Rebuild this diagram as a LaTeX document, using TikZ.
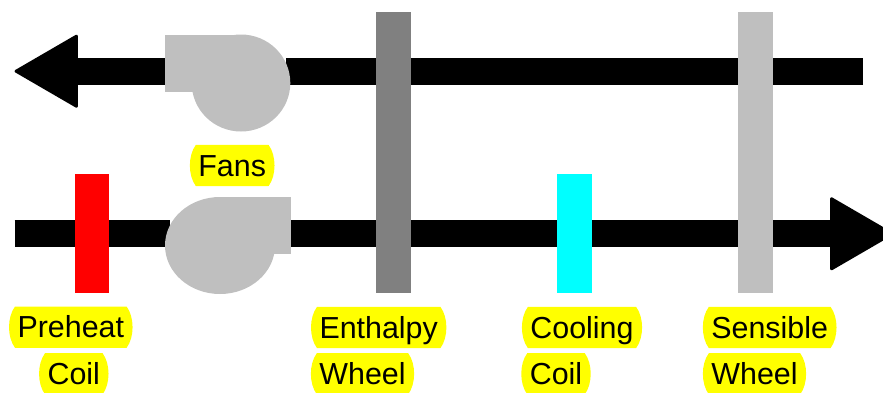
\documentclass[tikz,border=0pt]{standalone}
\usepackage{fontspec}
\setmainfont{Liberation Sans}
\usetikzlibrary{arrows.meta,backgrounds}
\definecolor{midgray}{gray}{0.5}
\definecolor{lightgr}{gray}{0.75}
\definecolor{pureyellow}{rgb}{1,1,0}
\definecolor{purecyan}{rgb}{0,1,1}
\definecolor{purered}{rgb}{1,0,0}
\tikzset{
  duct/.style={line width=20.5pt,-{Triangle[length=48.5pt,width=55.8pt,line width=2pt,round]}},
  fan/.style={fill=lightgr,draw=none},
  tag/.style={rectangle,inner xsep=6.2pt,inner ysep=0pt,anchor=base,text height=23.2pt,text depth=7.4pt,
    font=\fontsize{22.8}{27}\selectfont,text=black}
}
\newcommand{\tagbox}[3]{%
  \node[tag] (#1) at (#2) {#3};
  \begin{scope}[on background layer]
    \fill[pureyellow] ([xshift=4.5pt]#1.north west) -- ([xshift=-4.5pt]#1.north east)
      .. controls ([xshift=1.5pt,yshift=-8pt]#1.north east) and ([xshift=1.5pt,yshift=8pt]#1.south east) .. ([xshift=-4.5pt]#1.south east)
      -- ([xshift=4.5pt]#1.south west)
      .. controls ([xshift=-1.5pt,yshift=8pt]#1.south west) and ([xshift=-1.5pt,yshift=-8pt]#1.north west) .. cycle;
  \end{scope}}
\begin{document}
\begin{tikzpicture}[x=0.75pt,y=-0.75pt]
\useasboundingbox (0,0) rectangle (883,393);
% ducts
\coordinate (topstart) at (863,71.2);
\coordinate (topend) at (14.5,71.2);
\coordinate (botstart) at (14.5,233.8);
\coordinate (botend) at (893.5,233.8);
\draw[duct] (topstart) -- (topend);
\draw[duct] (botstart) -- (botend);
% fans
\fill[white] (165,57) rectangle (286,86);
\fill[fan] (241,83) ellipse [x radius=49.3,y radius=48.5];
\fill[fan] (165,34.5) rectangle (241,91.5);
\fill[white] (169.7,219.5) rectangle (291,248);
\fill[fan] (220,245.5) ellipse [x radius=55,y radius=48.5];
\fill[fan] (220,197) rectangle (290.7,254);
% bars
\fill[purered] (74.7,174) rectangle (109.3,293);
\fill[midgray] (376,12) rectangle (411,293);
\fill[purecyan] (557,174) rectangle (591.7,293);
\fill[lightgr] (738,12) rectangle (772.5,293);
% labels
\tagbox{fans}{232.2,176}{Fans}
\tagbox{pre1}{70.8,337.7}{Preheat}
\tagbox{pre2}{73.8,384.3}{Coil}
\tagbox{ent1}{378.7,338}{Enthalpy}
\tagbox{ent2}{362.5,384.3}{Wheel}
\tagbox{coo1}{582,338}{Cooling}
\tagbox{coo2}{556,384.3}{Coil}
\tagbox{sen1}{769.7,338}{Sensible}
\tagbox{sen2}{754.5,384.3}{Wheel}
\end{tikzpicture}
\end{document}
